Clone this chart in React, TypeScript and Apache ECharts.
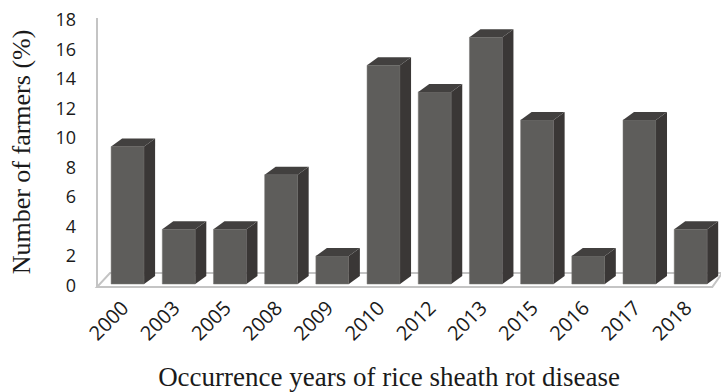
import React, { useEffect, useRef } from "react";
import * as echarts from "echarts";

const years = ["2000", "2003", "2005", "2008", "2009", "2010", "2012", "2013", "2015", "2016", "2017", "2018"];
const farmers = [9.3, 3.7, 3.7, 7.4, 1.9, 14.8, 13.0, 16.7, 11.1, 1.9, 11.1, 3.7];
const yMin = 0;
const yMax = 18;
const yStep = 2;
const xTitle = "Occurrence years of rice sheath rot disease";
const yTitle = "Number of farmers (%)";

const FRONT = "#5e5d5b";
const SIDE = "#3a3736";
const TOP = "#42403f";
const FLOOR = "#c4c4c4";

export default function App() {
  const ref = useRef<HTMLDivElement>(null);
  useEffect(() => {
    if (!ref.current) return;
    const chart = echarts.init(ref.current, null, { renderer: "svg" });
    const barW = 33;
    const dx = 11;
    const dy = 8;
    chart.setOption({
      animation: false,
      grid: { left: 97.7, top: 19, width: 618.6, height: 266, containLabel: false },
      xAxis: {
        type: "category",
        data: years,
        axisLine: { show: false },
        axisTick: { show: false },
        splitLine: { show: false },
        axisLabel: { show: false },
      },
      yAxis: {
        type: "value",
        min: yMin,
        max: yMax,
        interval: yStep,
        axisLine: { show: false },
        axisTick: { show: false },
        splitLine: { show: false },
        axisLabel: {
          margin: 26,
          fontFamily: "Open Sans",
          fontSize: 18,
          color: "#1a1a1a",
        },
        name: yTitle,
        nameLocation: "middle",
        nameGap: 68,
        nameTextStyle: { fontFamily: "Liberation Serif", fontSize: 26, color: "#1a1a1a" },
      },
      graphic: [
        {
          type: "text",
          x: 389,
          y: 377,
          style: {
            text: xTitle,
            textAlign: "center",
            textVerticalAlign: "middle",
            fontFamily: "Liberation Serif",
            fontSize: 27,
            fill: "#1a1a1a",
          },
        },
      ],
      series: [
        {
          type: "custom",
          z: 1,
          data: [[0, 0]],
          renderItem: (params: any, api: any) => {
            const cs = params.coordSys;
            const gx = cs.x;
            const gy = cs.y;
            const gw = cs.width;
            const gh = cs.height;
            const fy = gy + gh + 2;
            const by = gy + gh - 12;
            return {
              type: "group",
              children: [
                {
                  type: "polygon",
                  shape: {
                    points: [
                      [gx - 5, fy],
                      [gx + gw - 4, fy],
                      [gx + gw + 6, by],
                      [gx + 8, by],
                    ],
                  },
                  style: { fill: "#ffffff", stroke: FLOOR, lineWidth: 2 },
                },
                {
                  type: "line",
                  shape: { x1: gx - 5, y1: gy - 1, x2: gx - 5, y2: fy },
                  style: { stroke: FLOOR, lineWidth: 2 },
                },
              ],
            };
          },
        },
        {
          type: "custom",
          z: 2,
          data: years.map((_, i) => [i, farmers[i]]),
          encode: { x: 0, y: 1 },
          renderItem: (params: any, api: any) => {
            const idx = api.value(0);
            const top = api.coord([idx, api.value(1)]);
            const base = api.coord([idx, 0]);
            const x0 = top[0] - barW / 2;
            const yt = top[1] - 1;
            const yb = base[1] - 1;
            return {
              type: "group",
              children: [
                {
                  type: "rect",
                  shape: { x: x0, y: yt, width: barW, height: yb - yt },
                  style: { fill: FRONT, stroke: "#7a7977", lineWidth: 0.5 },
                },
                {
                  type: "polygon",
                  shape: {
                    points: [
                      [x0 + barW, yt],
                      [x0 + barW + dx, yt - dy],
                      [x0 + barW + dx, yb - dy],
                      [x0 + barW, yb],
                    ],
                  },
                  style: { fill: SIDE },
                },
                {
                  type: "polygon",
                  shape: {
                    points: [
                      [x0, yt],
                      [x0 + dx, yt - dy],
                      [x0 + barW + dx, yt - dy],
                      [x0 + barW, yt],
                    ],
                  },
                  style: { fill: TOP },
                },
                {
                  type: "text",
                  x: base[0] - 3,
                  y: base[1] + 19,
                  rotation: Math.PI / 4,
                  style: {
                    text: years[idx],
                    textAlign: "right",
                    textVerticalAlign: "middle",
                    fontFamily: "Open Sans",
                    fontSize: 20,
                    fill: "#1a1a1a",
                  },
                },
              ],
            };
          },
        },
      ],
    });
    return () => chart.dispose();
  }, []);
  return <div ref={ref} style={{ width: 721, height: 392, position: "absolute", left: 0, top: 0 }} />;
}
